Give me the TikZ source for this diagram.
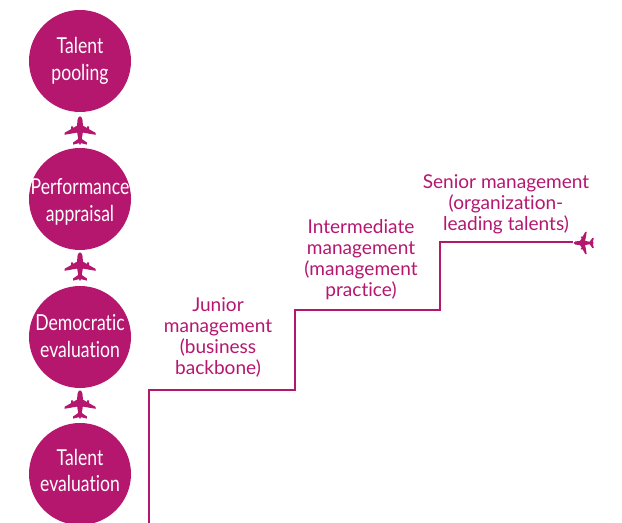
\documentclass[tikz,border=0pt]{standalone}
\usepackage{fontspec}
\setmainfont[Ligatures=NoCommon]{Lato}
\definecolor{stagepink}{HTML}{B5176F}
\tikzset{
    stage/.style={circle,fill=stagepink,minimum size=76.5pt,inner sep=0pt},
    stagetext/.style={text=white,align=center,font=\fontsize{16.5}{20}\selectfont},
    level/.style={text=stagepink,align=center,font=\fontsize{14.3}{15.8}\selectfont},
    plane/.pic={\fill[stagepink] (0,-14.5)..controls (2,-14.5) and (2.8,-11)..(2.8,-7)--(2.8,-5.5)--(7,-3)--(7,-4.5)--(9,-4.5)--(9,-1.8)--(15.5,1.8)--(15.5,3.8)--(2.8,1.6)--(1.8,8)--(6.8,11.4)--(6.8,13.6)--(1,12.2)--(0,14)--(-1,12.2)--(-6.8,13.6)--(-6.8,11.4)--(-1.8,8)--(-2.8,1.6)--(-15.5,3.8)--(-15.5,1.8)--(-9,-1.8)--(-9,-4.5)--(-7,-4.5)--(-7,-3)--(-2.8,-5.5)--(-2.8,-7)..controls (-2.8,-11) and (-2,-14.5)..(0,-14.5)--cycle;}
}
\newcommand{\narrow}[1]{\scalebox{0.8}[1]{#1}}
\begin{document}
\begin{tikzpicture}[x=0.75pt,y=-0.75pt]
    \useasboundingbox (0,0) rectangle (622,523);
    \begin{scope}
        \clip (0,0) rectangle (622,523);
        \node[stage](pooling)at(80,61){};
        \node[stage](appraisal)at(80,199){};
        \node[stage](democratic)at(80,337){};
        \node[stage](evaluation)at(80,474){};
    \end{scope}
    \node[stagetext](poolingtext)at(80,61){\narrow{Talent}\\\narrow{pooling}};
    \node[stagetext](appraisaltext)at(80,202){\narrow{Performance}\\\narrow{appraisal}};
    \node[stagetext](democratictext)at(80,336){\narrow{Democratic}\\\narrow{evaluation}};
    \node[stagetext](evaluationtext)at(80,470.5){\narrow{Talent}\\\narrow{evaluation}};
    \pic at (80,131) {plane};
    \pic at (80,267) {plane};
    \pic at (80,405) {plane};

    \coordinate (start) at (149,523);
    \coordinate (s1) at (149,390);
    \coordinate (s2) at (295,390);
    \coordinate (s3) at (295,310);
    \coordinate (s4) at (440,310);
    \coordinate (s5) at (440,242);
    \coordinate (finish) at (573,242);
    \draw[stagepink,line width=2.2pt] (start)--(s1)--(s2)--(s3)--(s4)--(s5)--(finish);
    \pic[rotate=90,scale=0.72] at (584,243) {plane};

    \node[level](junior)at(218,337.5){Junior\\management\\(business\\backbone)};
    \node[level](intermediate)at(361,259.5){Intermediate\\management\\(management\\practice)};
    \node[level](senior)at(506,204){Senior management\\(organization-\\leading talents)};
\end{tikzpicture}
\end{document}
